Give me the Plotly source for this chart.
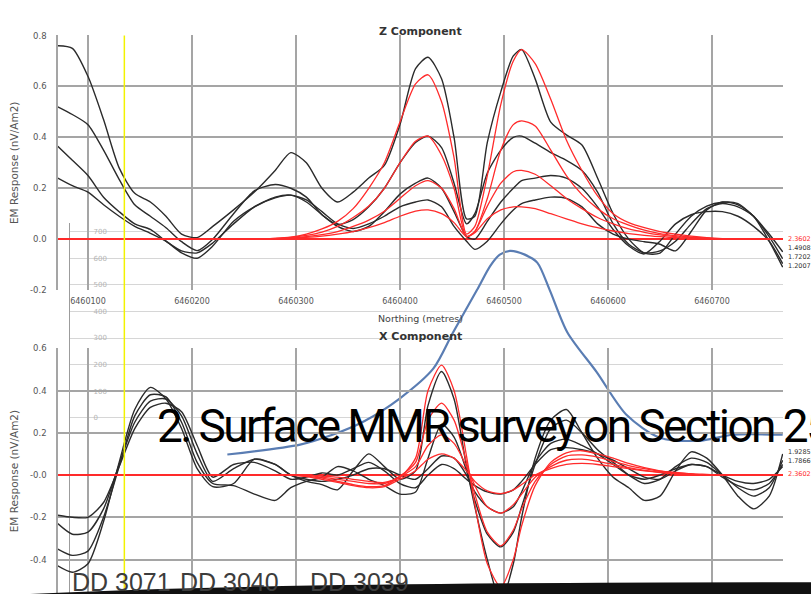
import plotly.graph_objects as go

# ---------------- data ----------------
northing = [6460071, 6460085, 6460100, 6460115, 6460130, 6460145, 6460160, 6460175,
            6460190, 6460205, 6460220, 6460240, 6460260, 6460280, 6460295, 6460310,
            6460325, 6460340, 6460355, 6460370, 6460385, 6460400, 6460415, 6460427,
            6460440, 6460452, 6460464, 6460472, 6460484, 6460497, 6460509, 6460517,
            6460530, 6460545, 6460560, 6460575, 6460590, 6460605, 6460620, 6460635,
            6460650, 6460665, 6460680, 6460695, 6460710, 6460725, 6460740, 6460755,
            6460768]

# Z component - measured (black)
z_meas_1 = [0.76, 0.75, 0.64, 0.47, 0.28, 0.18, 0.146, 0.09, 0.02, 0.006,
            0.05, 0.115, 0.185, 0.27, 0.34, 0.30, 0.20, 0.146, 0.185, 0.24,
            0.29, 0.45, 0.67, 0.715, 0.63, 0.40, 0.08, 0.09, 0.38, 0.58,
            0.72, 0.745, 0.63, 0.46, 0.41, 0.37, 0.24, 0.10, 0.0, -0.055,
            -0.055, 0.02, 0.09, 0.13, 0.145, 0.14, 0.09, 0.02, -0.05]
z_meas_2 = [0.52, 0.49, 0.45, 0.35, 0.235, 0.135, 0.09, 0.045, -0.01, -0.045,
            0.0, 0.10, 0.19, 0.215, 0.20, 0.165, 0.096, 0.058, 0.077, 0.127,
            0.20, 0.30, 0.38, 0.405, 0.36, 0.22, 0.06, 0.10, 0.26, 0.35,
            0.40, 0.405, 0.377, 0.34, 0.31, 0.27, 0.185, 0.06, -0.02, -0.054,
            -0.046, -0.008, 0.06, 0.12, 0.14, 0.127, 0.09, 0.01, -0.077]
z_meas_3 = [0.365, 0.31, 0.25, 0.165, 0.108, 0.06, 0.038, -0.008, -0.046, -0.054,
            -0.015, 0.06, 0.127, 0.165, 0.173, 0.146, 0.096, 0.05, 0.03, 0.05,
            0.108, 0.177, 0.22, 0.24, 0.20, 0.108, 0.01, 0.0, 0.07, 0.146,
            0.20, 0.23, 0.24, 0.25, 0.24, 0.20, 0.127, 0.038, -0.027, -0.058,
            -0.008, 0.06, 0.096, 0.108, 0.108, 0.09, 0.05, -0.008, -0.096]
z_meas_4 = [0.24, 0.21, 0.185, 0.135, 0.09, 0.05, 0.023, -0.008, -0.054, -0.075,
            -0.027, 0.07, 0.127, 0.162, 0.173, 0.154, 0.108, 0.06, 0.042, 0.06,
            0.09, 0.127, 0.146, 0.154, 0.127, 0.05, -0.008, -0.04, -0.008, 0.06,
            0.115, 0.14, 0.154, 0.165, 0.16, 0.127, 0.06, 0.02, 0.0, -0.01,
            -0.02, -0.046, 0.03, 0.115, 0.146, 0.135, 0.09, -0.008, -0.11]

# Z component - model (red)
z_model_1 = [0, 0, 0, 0, 0, 0, 0, 0, 0, 0, 0, 0, 0, 0.003, 0.008, 0.02, 0.04, 0.07,
             0.12, 0.20, 0.30, 0.46, 0.61, 0.646, 0.54, 0.32, 0.02, 0.05, 0.25, 0.53,
             0.70, 0.745, 0.69, 0.55, 0.39, 0.27, 0.17, 0.10, 0.065, 0.045, 0.03,
             0.02, 0.012, 0.006, 0.002, 0, 0, 0, 0]
z_model_2 = [0, 0, 0, 0, 0, 0, 0, 0, 0, 0, 0, 0, 0, 0.003, 0.007, 0.015, 0.028, 0.05,
             0.085, 0.13, 0.20, 0.30, 0.385, 0.405, 0.33, 0.20, 0.01, 0.03, 0.16, 0.35,
             0.45, 0.465, 0.445, 0.35, 0.25, 0.175, 0.12, 0.08, 0.055, 0.035, 0.022,
             0.014, 0.008, 0.004, 0, 0, 0, 0, 0]
z_model_3 = [0, 0, 0, 0, 0, 0, 0, 0, 0, 0, 0, 0, 0, 0.002, 0.005, 0.01, 0.018, 0.03,
             0.05, 0.075, 0.11, 0.16, 0.21, 0.23, 0.20, 0.12, 0.01, 0.03, 0.13, 0.22,
             0.265, 0.27, 0.255, 0.21, 0.16, 0.12, 0.085, 0.06, 0.04, 0.027, 0.017,
             0.01, 0.006, 0.003, 0, 0, 0, 0, 0]
z_model_4 = [0, 0, 0, 0, 0, 0, 0, 0, 0, 0, 0, 0, 0, 0.002, 0.004, 0.007, 0.012, 0.02,
             0.03, 0.045, 0.065, 0.09, 0.11, 0.115, 0.10, 0.065, 0.01, 0.025, 0.08, 0.115,
             0.127, 0.127, 0.12, 0.10, 0.08, 0.06, 0.045, 0.032, 0.022, 0.015, 0.01,
             0.006, 0.004, 0.002, 0, 0, 0, 0, 0]

# X component - measured (black)
x_meas_1 = [-0.19, -0.2, -0.2, -0.13, 0.04, 0.22, 0.32, 0.34, 0.3, 0.14,
            -0.01, 0.05, 0.06, 0.02, -0.02, -0.01, 0.01, 0.0, 0.03, 0.06,
            0.02, -0.04, -0.06, 0.0, 0.05, 0.03, -0.02, -0.05, -0.08, -0.09,
            -0.07, -0.03, 0.05, 0.12, 0.13, 0.12, 0.1, 0.07, 0.03, -0.01,
            -0.02, 0.02, 0.05, 0.04, 0.0, -0.03, -0.04, -0.02, 0.04]
x_meas_2 = [-0.23, -0.28, -0.27, -0.16, 0.05, 0.25, 0.35, 0.36, 0.28, 0.1,
            -0.03, 0.03, 0.075, 0.05, 0.0, -0.02, -0.03, -0.02, 0.0, 0.03,
            0.03, 0.0, -0.02, 0.03, 0.09, 0.08, 0.0, -0.08, -0.15, -0.18,
            -0.15, -0.08, 0.06, 0.15, 0.17, 0.14, 0.1, 0.05, 0.0, -0.02,
            0.0, 0.03, 0.05, 0.04, -0.01, -0.05, -0.07, -0.04, 0.05]
x_meas_3 = [-0.35, -0.38, -0.36, -0.2, 0.04, 0.28, 0.38, 0.37, 0.25, 0.06,
            -0.04, -0.05, -0.09, -0.12, -0.06, -0.03, -0.01, 0.04, 0.02, -0.02,
            -0.05, -0.09, -0.08, 0.08, 0.24, 0.18, 0.02, -0.12, -0.28, -0.34,
            -0.27, -0.15, 0.05, 0.22, 0.26, 0.2, 0.12, 0.06, 0.0, -0.04,
            -0.02, 0.04, 0.08, 0.06, 0.0, -0.06, -0.1, -0.06, 0.07]
x_meas_4 = [-0.43, -0.46, -0.42, -0.22, 0.06, 0.31, 0.415, 0.36, 0.22, 0.03,
            -0.055, -0.04, 0.075, 0.05, 0.0, -0.03, -0.045, -0.07, 0.02, 0.10,
            0.04, -0.02, 0.02, 0.33, 0.49, 0.36, 0.04, -0.15, -0.40, -0.60,
            -0.42, -0.2, 0.08, 0.26, 0.31, 0.2, 0.08, -0.01, -0.06, -0.12,
            -0.1, 0.02, 0.11, 0.08, 0.0, -0.1, -0.16, -0.1, 0.1]

# X component - model (red)
x_model_1 = [0, 0, 0, 0, 0, 0, 0, 0, 0, 0, 0, 0, 0, 0, 0, 0.0, -0.005, -0.01,
             -0.02, -0.03, -0.035, -0.01, 0.08, 0.40, 0.52, 0.40, 0.09, -0.14, -0.42, -0.53,
             -0.4, -0.24, -0.05, 0.06, 0.105, 0.115, 0.1, 0.08, 0.055, 0.035, 0.02,
             0.012, 0.006, 0.003, 0, 0, 0, 0, 0]
x_model_2 = [0, 0, 0, 0, 0, 0, 0, 0, 0, 0, 0, 0, 0, 0, 0, 0.0, -0.01, -0.02,
             -0.03, -0.04, -0.04, -0.005, 0.06, 0.26, 0.34, 0.26, 0.06, -0.09, -0.27, -0.335,
             -0.26, -0.16, -0.03, 0.05, 0.09, 0.095, 0.085, 0.065, 0.045, 0.03, 0.018,
             0.01, 0.005, 0, 0, 0, 0, 0, 0]
x_model_3 = [0, 0, 0, 0, 0, 0, 0, 0, 0, 0, 0, 0, 0, 0, 0, -0.005, -0.015, -0.03,
             -0.045, -0.055, -0.05, -0.01, 0.04, 0.14, 0.19, 0.15, 0.04, -0.05, -0.15, -0.18,
             -0.14, -0.09, -0.01, 0.04, 0.07, 0.075, 0.065, 0.05, 0.035, 0.022, 0.014,
             0.008, 0.004, 0, 0, 0, 0, 0, 0]
x_model_4 = [0, 0, 0, 0, 0, 0, 0, 0, 0, 0, 0, 0, 0, 0, 0, -0.007, -0.02, -0.035,
             -0.05, -0.06, -0.055, -0.02, 0.02, 0.075, 0.1, 0.08, 0.02, -0.03, -0.075, -0.088,
             -0.07, -0.045, 0.0, 0.03, 0.05, 0.055, 0.05, 0.04, 0.03, 0.02, 0.012,
             0.006, 0.003, 0, 0, 0, 0, 0, 0]

# Section profile overlay (blue)
profile_northing = [6460234, 6460304, 6460333, 6460366, 6460400, 6460432, 6460451,
                    6460474, 6460487, 6460496, 6460506, 6460520, 6460532, 6460544,
                    6460561, 6460589, 6460618, 6460650, 6460689, 6460720, 6460768]
profile_elev = [-137, -100, -66, -11, 74, 185, 321, 480, 572, 613, 627, 613, 583, 480,
                321, 173, 11, -74, -85, -63, -63]
section_levels = [0, 100, 200, 300, 400, 500, 600, 700]

northing_ticks = [6460100, 6460200, 6460300, 6460400, 6460500, 6460600, 6460700]
z_ticks = [-0.2, 0.0, 0.2, 0.4, 0.6, 0.8]
z_ticktext = ["-0.2", "0.0", "0.2", "0.4", "0.6", "0.8"]
x_ticks = [-0.4, -0.2, 0.0, 0.2, 0.4, 0.6]
x_ticktext = ["-0.4", "-0.2", "-0.0", "0.2", "0.4", "0.6"]
drill_holes = ["DD 3071", "DD 3040", "DD 3039"]
drillhole_marker_northing = 6460135

# ---------------- figure ----------------
W, H = 811, 599
def px(xp):
    return xp / W
def py(yp):
    return 1 - yp / H

BLACK = "#2b2b2b"
RED = "#ff2b2b"
GRID = "#a5a5a5"
TICKC = "#555555"

fig = go.Figure()

# overlay section (drawn first, beneath)
fig.add_trace(go.Scatter(x=profile_northing, y=profile_elev, mode="lines",
                         line=dict(color="#5a7db3", width=2.2, shape="spline", smoothing=0.8),
                         xaxis="x", yaxis="y", hoverinfo="skip", showlegend=False))

z_meas = [z_meas_1, z_meas_2, z_meas_3, z_meas_4]
z_model = [z_model_1, z_model_2, z_model_3, z_model_4]
x_meas = [x_meas_1, x_meas_2, x_meas_3, x_meas_4]
x_model = [x_model_1, x_model_2, x_model_3, x_model_4]

for s in z_meas:
    fig.add_trace(go.Scatter(x=northing, y=s, mode="lines", xaxis="x2", yaxis="y2",
                             line=dict(color=BLACK, width=1.4, shape="spline", smoothing=0.7),
                             showlegend=False))
for s in z_model:
    fig.add_trace(go.Scatter(x=northing, y=s, mode="lines", xaxis="x2", yaxis="y2",
                             line=dict(color=RED, width=1.3, shape="spline", smoothing=0.7),
                             showlegend=False))
for s in x_meas:
    fig.add_trace(go.Scatter(x=northing, y=s, mode="lines", xaxis="x3", yaxis="y3",
                             line=dict(color=BLACK, width=1.4, shape="spline", smoothing=0.7),
                             showlegend=False))
for s in x_model:
    fig.add_trace(go.Scatter(x=northing, y=s, mode="lines", xaxis="x3", yaxis="y3",
                             line=dict(color=RED, width=1.3, shape="spline", smoothing=0.7),
                             showlegend=False))

xr_main = [6460071.2, 6460768.3]
font_fam = "DejaVu Sans"

fig.update_layout(
    width=W, height=H, margin=dict(l=0, r=0, t=0, b=0),
    paper_bgcolor="white", plot_bgcolor="rgba(0,0,0,0)",
    showlegend=False,
    font=dict(family=font_fam, color=TICKC),
    # section overlay axes
    xaxis=dict(domain=[px(70), px(783)], range=[6460082.7, 6460768.3], anchor="y",
               visible=False),
    yaxis=dict(domain=[0, py(222)], range=[-660.5, 730.6], anchor="x",
               tickvals=section_levels, showgrid=True, gridcolor="#d6d6d6", gridwidth=1,
               zeroline=False, showline=True, linecolor="#9c9c9c", linewidth=1,
               ticks="", ticklabelposition="inside", ticklabelstandoff=22,
               tickfont=dict(size=7, color="#b5b5b5")),
    # Z component
    xaxis2=dict(domain=[px(58), px(783)], range=xr_main, anchor="y2",
                tickvals=northing_ticks, ticktext=[str(t) for t in northing_ticks],
                showgrid=True, gridcolor=GRID, gridwidth=1.5, zeroline=False,
                showline=False, ticks="", tickfont=dict(size=8, color=TICKC),
                ticklabelstandoff=5,
                title=dict(text="Northing (metres)", font=dict(size=9.5, color="#444"),
                           standoff=10)),
    yaxis2=dict(domain=[py(290), py(31)], range=[-0.2005, 0.8005], anchor="x2",
                tickvals=z_ticks, ticktext=z_ticktext,
                showgrid=True, gridcolor=GRID, gridwidth=1.5,
                zeroline=True, zerolinecolor=RED, zerolinewidth=2,
                showline=True, linecolor=GRID, linewidth=1.5, ticks="",
                tickfont=dict(size=8.5, color=TICKC), ticklabelstandoff=8,
                title=dict(text="EM Response (nV/Am2)", font=dict(size=10.5, color="#555"),
                           standoff=9)),
    # X component
    xaxis3=dict(domain=[px(58), px(783)], range=xr_main, anchor="y3",
                tickvals=northing_ticks, showticklabels=False,
                showgrid=True, gridcolor=GRID, gridwidth=1.5, zeroline=False,
                showline=False, ticks=""),
    yaxis3=dict(domain=[0, py(349)], range=[-0.563, 0.6005], anchor="x3",
                tickvals=x_ticks, ticktext=x_ticktext,
                showgrid=True, gridcolor=GRID, gridwidth=1.5,
                zeroline=True, zerolinecolor=RED, zerolinewidth=2,
                showline=True, linecolor=GRID, linewidth=1.5, ticks="",
                tickfont=dict(size=8.5, color=TICKC), ticklabelstandoff=8,
                title=dict(text="EM Response (nV/Am2)", font=dict(size=10.5, color="#555"),
                           standoff=9)),
)

annotations = [
    dict(text="<b>Z Component</b>", x=px(420), y=py(18), xref="paper", yref="paper",
         showarrow=False, font=dict(family=font_fam, size=11, color="#333")),
    dict(text="<b>X Component</b>", x=px(420), y=py(337), xref="paper", yref="paper",
         showarrow=False, font=dict(family=font_fam, size=11, color="#333")),
    dict(text='<span style="letter-spacing:-2.6px">2. Surface MMR survey on Section 25</span>',
         x=px(155), y=py(428),
         xref="paper", yref="paper", xanchor="left", yanchor="middle", showarrow=False,
         font=dict(family="Roboto", size=46, color="black")),
]
for label, xl in zip(drill_holes, [70, 178, 308]):
    annotations.append(dict(text=label, x=px(xl), y=py(587), xref="paper", yref="paper",
                            xanchor="left", yanchor="middle", showarrow=False,
                            font=dict(family="Liberation Sans", size=25, color="#3c3c3c")))
side_labels = [("2.3602", 238, RED), ("1.4908", 247, "#333"), ("1.7202", 256, "#333"),
               ("1.2007", 265, "#333"), ("1.9285", 455, "#333"), ("1.7866", 464, "#333"),
               ("2.3602", 477, RED)]
for t, yl, c in side_labels:
    annotations.append(dict(text=t, x=px(786), y=py(yl), xref="paper", yref="paper",
                            xanchor="left", yanchor="middle", showarrow=False,
                            font=dict(family=font_fam, size=6.5, color=c)))
fig.update_layout(annotations=annotations)

def P(xp, yp):
    return f"{px(xp):.5f},{py(yp):.5f}"

fig.update_layout(shapes=[
    dict(type="line", xref="x2", yref="paper", x0=drillhole_marker_northing,
         x1=drillhole_marker_northing, y0=0, y1=py(31),
         line=dict(color="#f2f200", width=1.5), layer="above"),
    dict(type="path", xref="paper", yref="paper",
         path=f"M {P(30, 599)} Q {P(260, 587)} {P(811, 587)} L {P(811, 599)} Z",
         fillcolor="#111111", line=dict(width=0), layer="above"),
])

fig.write_html("out.html")
